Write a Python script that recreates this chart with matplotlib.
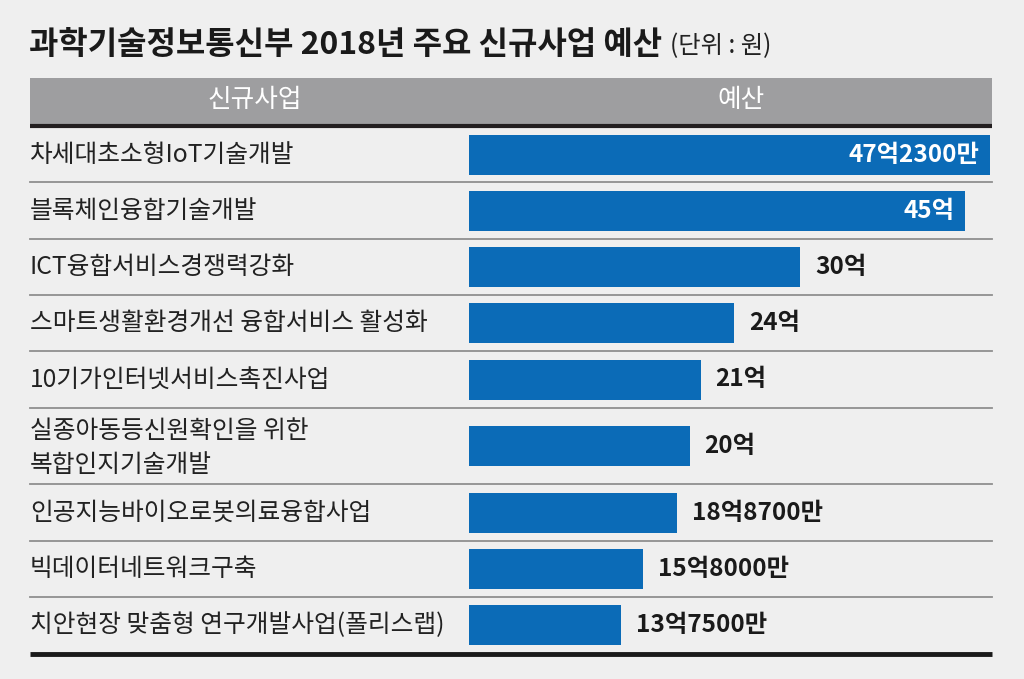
import matplotlib
matplotlib.use("Agg")
import matplotlib.pyplot as plt
from matplotlib.patches import Rectangle

plt.rcParams['font.family'] = ['Noto Sans CJK KR', 'DejaVu Sans']

# data (unit: 억원)
projects = ['차세대초소형IoT기술개발', '블록체인융합기술개발', 'ICT융합서비스경쟁력강화',
            '스마트생활환경개선 융합서비스 활성화', '10기가인터넷서비스촉진사업',
            '실종아동등신원확인을 위한\n복합인지기술개발', '인공지능바이오로봇의료융합사업',
            '빅데이터네트워크구축', '치안현장 맞춤형 연구개발사업(폴리스랩)']
budget = [47.23, 45, 30, 24, 21, 20, 18.87, 15.8, 13.75]
budget_labels = ['47억2300만', '45억', '30억', '24억', '21억', '20억',
                 '18억8700만', '15억8000만', '13억7500만']

title = '과학기술정보통신부 2018년 주요 신규사업 예산'
unit = '(단위 : 원)'
headers = ['신규사업', '예산']

W, H = 1024, 679
bg_col = '#efefef'
bar_col = '#0b6bb7'

# table layout in pixels
left, right = 30, 992
head_top, head_bot = 78, 124
table_top = 127
row_h = [55, 57, 56, 56, 57, 76, 57, 56, 56]
bar_x0 = 469
px_per_unit = 11.03

fig = plt.figure(figsize=(W / 100, H / 100), dpi=100, facecolor=bg_col)
bg = fig.add_axes([0, 0, 1, 1])
bg.set_xlim(0, W)
bg.set_ylim(H, 0)
bg.axis('off')

# title
t = bg.text(left - 1, 45, title, fontsize=23, fontweight='bold', color='#1a1a1a',
            ha='left', va='center')
fig.canvas.draw()
ext = t.get_window_extent(fig.canvas.get_renderer())
bg.text(ext.x1 + 8, 46, unit, fontsize=17.5, color='#222222', ha='left', va='center')

# header
bg.add_patch(Rectangle((left, head_top), right - left, head_bot - head_top,
                       facecolor='#9e9ea0', edgecolor='none'))
bg.plot([left, right], [head_bot + 1.5, head_bot + 1.5], color='#231f20', lw=3,
        solid_capstyle='butt')
bg.text(255, 100, headers[0], fontsize=18.5, color='white', ha='center', va='center')
bg.text(741, 100, headers[1], fontsize=18.5, color='white', ha='center', va='center')

# rows
edges = [table_top]
for h in row_h:
    edges.append(edges[-1] + h)
centers = [(edges[i] + edges[i + 1]) / 2 for i in range(len(row_h))]
for y in edges[1:-1]:
    bg.plot([left, right], [y, y], color='#8f8f8f', lw=1.3)
bg.plot([left, right], [edges[-1] + 1, edges[-1] + 1], color='#1a1a1a', lw=3.5,
        solid_capstyle='butt')

for name, yc in zip(projects, centers):
    multi = '\n' in name
    bg.text(left, yc + (2 if multi else 0), name, fontsize=17.8, color='#222222',
            ha='left', va='center', linespacing=1.4)

# bars
ax = fig.add_axes([bar_x0 / W, 1 - edges[-1] / H, (right - bar_x0) / W,
                   (edges[-1] - table_top) / H])
ax.set_xlim(0, (right - bar_x0) / px_per_unit)
ax.set_ylim(edges[-1], table_top)
ax.axis('off')
ax.barh(centers, budget, height=40, color=bar_col, edgecolor='none')

pad = 15 / px_per_unit
for v, lab, yc in zip(budget, budget_labels, centers):
    if v > 40:
        ax.text(v - 11 / px_per_unit, yc, lab, fontsize=17.5, fontweight='bold',
                color='white', ha='right', va='center')
    else:
        ax.text(v + pad, yc, lab, fontsize=17.5, fontweight='bold', color='#1a1a1a',
                ha='left', va='center')

fig.savefig('out.png', dpi=100, facecolor=bg_col)
